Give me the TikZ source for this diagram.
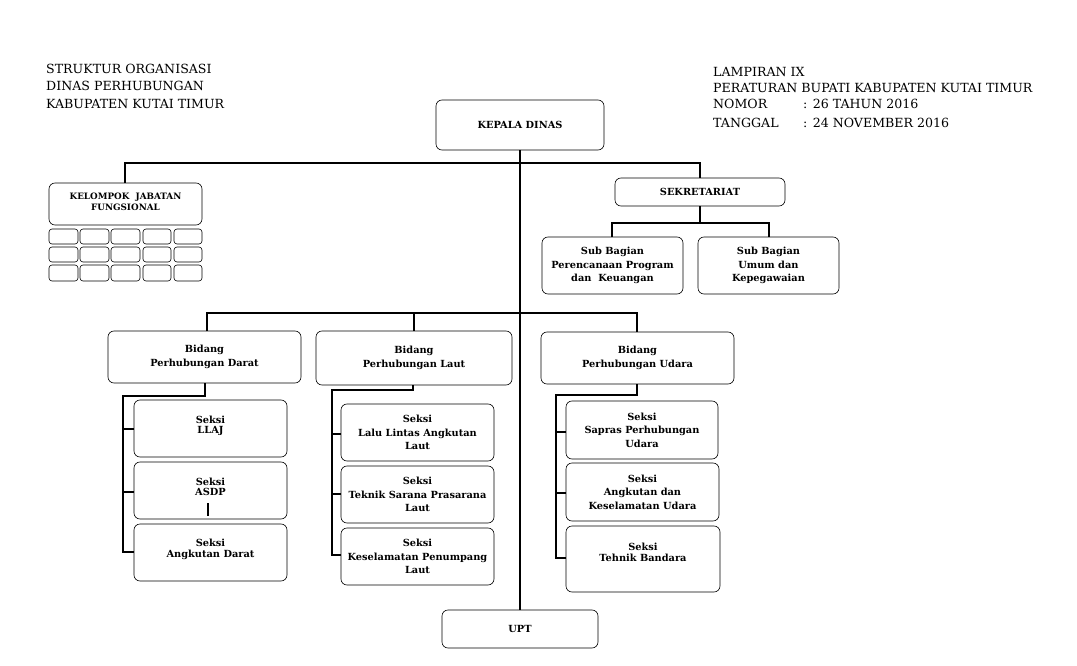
\documentclass[tikz,border=0pt]{standalone}
\usepackage{fontspec}
\setmainfont{DejaVu Serif}
\begin{document}
\begin{tikzpicture}[x=1pt,y=-1pt,
  bx/.style={draw,rounded corners=6pt,line width=0.6pt,font=\bfseries\fontsize{9.8}{13.5}\selectfont,align=center,inner sep=0pt},
  cell/.style={draw,rounded corners=3pt,line width=0.6pt},
  ln/.style={line width=1.2pt},
  hd/.style={anchor=west,font=\fontsize{12.6}{14}\selectfont,inner sep=0pt}]
\useasboundingbox (0,0) rectangle (1077,666);
\newcommand{\bxat}[6]{\node[bx,minimum width=#4-#2,minimum height=#5-#3] (#1) at ({(#2+#4)/2},{(#3+#5)/2}) {#6};}
% headers
\node[hd] (h1) at (46,69) {STRUKTUR ORGANISASI};
\node[hd] (h2) at (46,86) {DINAS PERHUBUNGAN};
\node[hd] (h3) at (46,104) {KABUPATEN KUTAI TIMUR};
\node[hd] (r1) at (713,72) {LAMPIRAN IX};
\node[hd] (r2) at (713,88) {PERATURAN BUPATI KABUPATEN KUTAI TIMUR};
\node[hd] (r3) at (713,104) {NOMOR};
\node[hd] (r3b) at (803,104) {: 26 TAHUN 2016};
\node[hd] (r4) at (713,123) {TANGGAL};
\node[hd] (r4b) at (803,123) {: 24 NOVEMBER 2016};
% boxes
\bxat{kd}{436}{100}{604}{150}{KEPALA DINAS}
\bxat{upt}{442}{610}{598}{648}{UPT}
\bxat{kjf}{49}{183}{202}{225}{\raisebox{5pt}{\fontsize{8.8}{11}\selectfont\shortstack{KELOMPOK\ \ JABATAN\\FUNGSIONAL}}}
\bxat{sek}{615}{178}{785}{206}{SEKRETARIAT}
\bxat{sb1}{542}{237}{683}{294}{Sub Bagian\\Perencanaan Program\\dan\ \ Keuangan}
\bxat{sb2}{698}{237}{839}{294}{Sub Bagian\\Umum dan\\Kepegawaian}
\bxat{bd}{108}{331}{301}{383}{Bidang\\Perhubungan Darat}
\bxat{bl}{316}{331}{512}{385}{Bidang\\Perhubungan Laut}
\bxat{bu}{541}{332}{734}{384}{Bidang\\Perhubungan Udara}
\bxat{d1}{134}{400}{287}{457}{\raisebox{8pt}{\shortstack{Seksi\\LLAJ}}}
\bxat{d2}{134}{462}{287}{519}{\raisebox{8pt}{\shortstack{Seksi\\ASDP}}}
\bxat{d3}{134}{524}{287}{581}{\raisebox{8pt}{\shortstack{Seksi\\Angkutan Darat}}}
\bxat{l1}{341}{404}{494}{461}{Seksi\\Lalu Lintas Angkutan\\Laut}
\bxat{l2}{341}{466}{494}{523}{Seksi\\Teknik Sarana Prasarana\\Laut}
\bxat{l3}{341}{528}{494}{585}{Seksi\\Keselamatan Penumpang\\Laut}
\bxat{u1}{566}{401}{718}{459}{Seksi\\Sapras Perhubungan\\Udara}
\bxat{u2}{566}{463}{719}{521}{Seksi\\Angkutan dan\\Keselamatan Udara}
\bxat{u3}{566}{526}{720}{592}{\raisebox{14pt}{\shortstack{Seksi\\Tehnik Bandara}}}
% grid
\foreach \ya/\yb in {229/244,247/262,265/281}
  \foreach \xa/\xb in {49/78,80/109,111/140,143/171,174/202}
    \draw[cell] (\xa,\ya) rectangle (\xb,\yb);
% connectors
\draw[ln] (kd.south) -- (upt.north);
\coordinate (tL) at (125,163); \coordinate (tR) at (700,163);
\draw[ln] (kjf.north -| tL) -- (tL) -- (tR) -- (sek.north -| tR);
\draw[ln] (sek.south) -- (700,223);
\draw[ln] (612,237) -- (612,223) -- (769,223) -- (769,237);
\draw[ln] (207,331) -- (207,313) -- (637,313) -- (637,332);
\draw[ln] (414,313) -- (414,331);
% darat
\draw[ln] (205,383) -- (205,396) -- (123,396) -- (123,552) -- (134,552);
\draw[ln] (123,429) -- (d1.west |- 0,429);
\draw[ln] (123,492) -- (d2.west |- 0,492);
\draw[ln] (208,503) -- (208,516);
% laut
\draw[ln] (413,385) -- (413,390) -- (332,390) -- (332,555) -- (341,555);
\draw[ln] (332,434) -- (l1.west |- 0,434);
\draw[ln] (332,494) -- (l2.west |- 0,494);
% udara
\draw[ln] (637,384) -- (637,395) -- (556,395) -- (556,558) -- (566,558);
\draw[ln] (556,432) -- (u1.west |- 0,432);
\draw[ln] (556,493) -- (u2.west |- 0,493);
\end{tikzpicture}
\end{document}
